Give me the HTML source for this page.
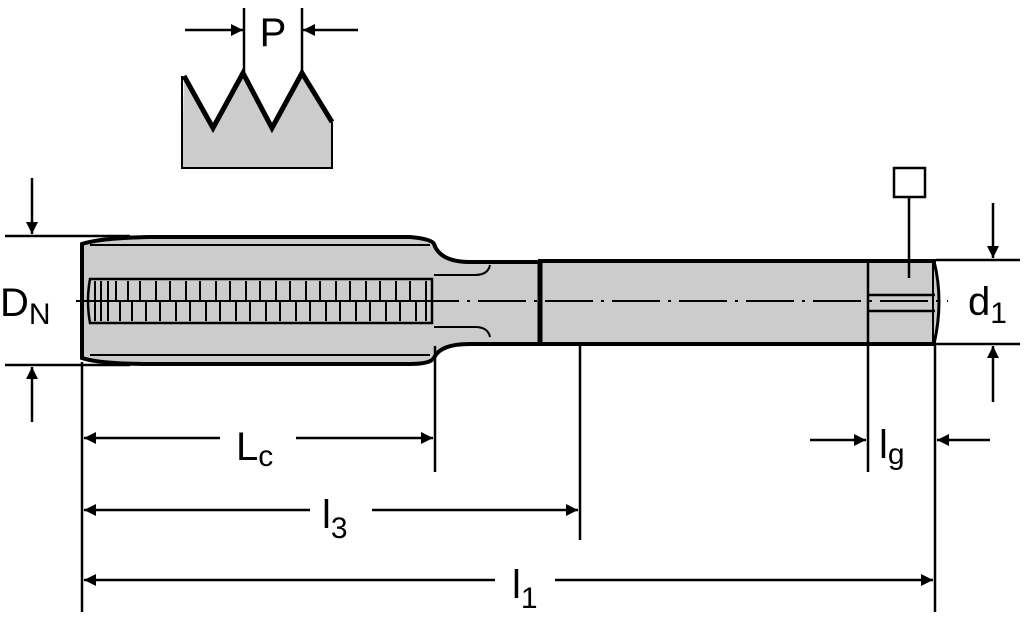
<!DOCTYPE html>
<html><head><meta charset="utf-8"><style>
html,body{margin:0;padding:0;background:#fff}
svg{display:block}
text{font-family:"Liberation Sans","DejaVu Sans",sans-serif;fill:#000}
</style></head><body>
<svg width="1024" height="628" viewBox="0 0 1024 628" xmlns="http://www.w3.org/2000/svg">
<defs>
<marker id="a" viewBox="0 0 10 10" refX="10" refY="5" markerWidth="22" markerHeight="12" markerUnits="userSpaceOnUse" orient="auto"><path d="M0,0 L10,5 L0,10 z" fill="#000"/></marker>
</defs>
<polygon points="184,76 213,128 243,73 272,128 302,73 332,122 332,168 182,168" fill="#ccc"/>
<path d="M332,122 L332,168 L182,168 L182,76" fill="none" stroke="#000" stroke-width="2"/>
<polyline points="184,76 213,128 243,73 272,128 302,73 332,122" fill="none" stroke="#000" stroke-width="5" stroke-linejoin="miter"/>
<line x1="244" y1="8" x2="244" y2="72" stroke="#000" stroke-width="2.5"/>
<line x1="302" y1="8" x2="302" y2="72" stroke="#000" stroke-width="2.5"/>
<line x1="185" y1="30" x2="243" y2="30" stroke="#000" stroke-width="2.5" marker-end="url(#a)"/>
<line x1="358" y1="30" x2="303" y2="30" stroke="#000" stroke-width="2.5" marker-end="url(#a)"/>
<text x="273" y="46" font-size="40" text-anchor="middle">P</text>

<path d="M82,244 Q100,238 150,237 L410,237 Q432,239 434,244 Q440,262 470,262 L540,262 L540,344 L470,344 Q440,344 434,358 Q430,364 410,364 L150,364 Q100,364 82,358 Z" fill="#ccc" stroke="#000" stroke-width="4"/>
<line x1="90" y1="245" x2="430" y2="245" stroke="#000" stroke-width="2"/>
<line x1="90" y1="355" x2="430" y2="355" stroke="#000" stroke-width="2"/>
<rect x="540" y="261" width="394" height="83" fill="#ccc" stroke="#000" stroke-width="4"/>
<line x1="540" y1="260" x2="540" y2="346" stroke="#000" stroke-width="5"/>
<path d="M934,261 Q944,301 934,344" fill="#ccc" stroke="#000" stroke-width="3"/>
<path d="M434,275 L475,275 Q488,275 490,265" fill="none" stroke="#000" stroke-width="2"/>
<path d="M434,327 L475,327 Q488,327 490,337" fill="none" stroke="#000" stroke-width="2"/>
<path d="M90,279 L432,279 L432,323 L90,323 Q86,301 90,279 Z" fill="#ccc" stroke="#000" stroke-width="2.5"/>
<g stroke="#000" stroke-width="2" fill="none">
<path d="M95,281v40M101,281v40M108,281v40M116,281v19M120,302v19M128,281v19M132,302v19M140,281v19M146,302v19M156,281v19M160,302v19M170,281v19M176,302v19M186,281v19M190,302v19M200,281v19M206,302v19M216,281v19M220,302v19M230,281v19M236,302v19M246,281v19M250,302v19M260,281v19M266,302v19M276,281v19M280,302v19M290,281v19M296,302v19M306,281v19M310,302v19M320,281v19M326,302v19M336,281v19M340,302v19M350,281v19M356,302v19M366,281v19M370,302v19M380,281v19M386,302v19M396,281v19M400,302v19M410,281v19M416,302v19M426,281v40"/>
<path d="M90,301 L432,301"/>
</g>
<line x1="868" y1="262" x2="868" y2="472" stroke="#000" stroke-width="2.5"/>
<path d="M868,295 L935,295 M868,311 L935,311" stroke="#000" stroke-width="2.5"/>
<line x1="76" y1="301" x2="948" y2="301" stroke="#000" stroke-width="2" stroke-dasharray="48,8,3,8"/>

<rect x="894" y="168" width="31" height="29" fill="none" stroke="#000" stroke-width="2.5"/>
<line x1="909" y1="197" x2="909" y2="278" stroke="#000" stroke-width="2.5"/>

<line x1="5" y1="236" x2="130" y2="236" stroke="#000" stroke-width="2.5"/>
<line x1="5" y1="365" x2="130" y2="365" stroke="#000" stroke-width="2.5"/>
<line x1="32" y1="178" x2="32" y2="234" stroke="#000" stroke-width="2.5" marker-end="url(#a)"/>
<line x1="32" y1="422" x2="32" y2="367" stroke="#000" stroke-width="2.5" marker-end="url(#a)"/>
<text x="0" y="316" font-size="40">D<tspan font-size="30" dy="8">N</tspan></text>

<line x1="936" y1="260" x2="1020" y2="260" stroke="#000" stroke-width="2.5"/>
<line x1="936" y1="344" x2="1020" y2="344" stroke="#000" stroke-width="2.5"/>
<line x1="993" y1="203" x2="993" y2="258" stroke="#000" stroke-width="2.5" marker-end="url(#a)"/>
<line x1="993" y1="402" x2="993" y2="346" stroke="#000" stroke-width="2.5" marker-end="url(#a)"/>
<text x="968" y="315" font-size="40">d<tspan font-size="30" dy="8">1</tspan></text>

<line x1="82" y1="362" x2="82" y2="612" stroke="#000" stroke-width="2.5"/>
<line x1="435" y1="346" x2="435" y2="472" stroke="#000" stroke-width="2.5"/>
<line x1="580" y1="346" x2="580" y2="540" stroke="#000" stroke-width="2.5"/>
<line x1="935" y1="344" x2="935" y2="612" stroke="#000" stroke-width="2.5"/>

<line x1="220" y1="438" x2="84" y2="438" stroke="#000" stroke-width="2.5" marker-end="url(#a)"/>
<line x1="296" y1="438" x2="433" y2="438" stroke="#000" stroke-width="2.5" marker-end="url(#a)"/>
<text x="236" y="460" font-size="40">L<tspan font-size="30" dy="6">c</tspan></text>
<line x1="310" y1="510" x2="84" y2="510" stroke="#000" stroke-width="2.5" marker-end="url(#a)"/>
<line x1="372" y1="510" x2="578" y2="510" stroke="#000" stroke-width="2.5" marker-end="url(#a)"/>
<text x="322" y="528" font-size="40">l<tspan font-size="30" dy="10">3</tspan></text>
<line x1="495" y1="580" x2="84" y2="580" stroke="#000" stroke-width="2.5" marker-end="url(#a)"/>
<line x1="555" y1="580" x2="933" y2="580" stroke="#000" stroke-width="2.5" marker-end="url(#a)"/>
<text x="512" y="598" font-size="40">l<tspan font-size="30" dy="10">1</tspan></text>
<line x1="810" y1="440" x2="866" y2="440" stroke="#000" stroke-width="2.5" marker-end="url(#a)"/>
<line x1="990" y1="440" x2="937" y2="440" stroke="#000" stroke-width="2.5" marker-end="url(#a)"/>
<text x="879" y="458" font-size="40">l<tspan font-size="30" dy="6">g</tspan></text>
</svg>
</body></html>
